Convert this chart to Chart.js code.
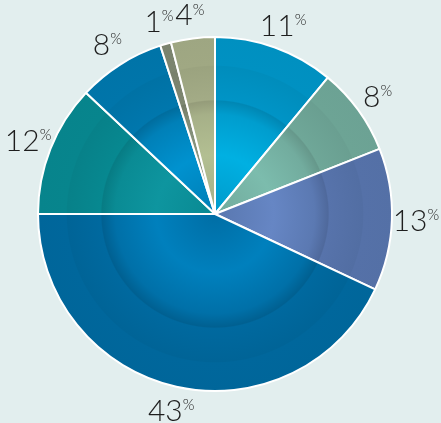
<!DOCTYPE html>
<html>
<head>
<meta charset="utf-8">
<script src="https://cdn.jsdelivr.net/npm/chart.js@4.4.1/dist/chart.umd.min.js"></script>
<style>
    html, body { margin: 0; padding: 0; background: #e2eeee; }
    #wrap { width: 441px; height: 423px; }
</style>
</head>
<body>
<div id="wrap"><canvas id="pieChart" width="441" height="423"></canvas></div>
<script>
// shares in percent, clockwise from 12 o'clock
const shares = [11, 8, 13, 43, 12, 8, 1, 4];
const shareLabels = ['11', '8', '13', '43', '12', '8', '1', '4'];

// outer band colour and highlight colour of each slice
const baseColors = ['#0090c0', '#6ca294', '#5470a6', '#00669a', '#07848c', '#0074a8', '#7a836e', '#9ea682'];
const lightColors = ['#00b0e2', '#7cbcad', '#6686c4', '#0080bd', '#0e959f', '#0092cf', '#8a9680', '#b3bf92'];

function hexToRgb(hex) {
    const n = parseInt(hex.slice(1), 16);
    return [(n >> 16) & 255, (n >> 8) & 255, n & 255];
}

function mix(a, b, t) {
    const c1 = hexToRgb(a), c2 = hexToRgb(b);
    const c = c1.map((v, i) => Math.round(v + (c2[i] - v) * t));
    return 'rgb(' + c.join(',') + ')';
}

function shade(hex, f) {
    const c = hexToRgb(hex).map(v => Math.max(0, Math.min(255, Math.round(v * f))));
    return 'rgb(' + c.join(',') + ')';
}

function sliceFill(context) {
    const chart = context.chart;
    const area = chart.chartArea;
    const i = context.dataIndex;
    if (!area) return baseColors[i];
    const cx = (area.left + area.right) / 2;
    const cy = (area.top + area.bottom) / 2;
    const r = Math.min(area.width, area.height) / 2;
    const base = baseColors[i], light = lightColors[i];
    const g = chart.ctx.createRadialGradient(cx, cy, 0, cx, cy, r);
    g.addColorStop(0, mix(base, light, 0.3));
    g.addColorStop(0.33, light);
    g.addColorStop(0.56, mix(base, light, 0.4));
    g.addColorStop(0.635, shade(base, 0.94));
    g.addColorStop(0.642, shade(base, 1.03));
    g.addColorStop(0.83, shade(base, 0.98));
    g.addColorStop(0.836, shade(base, 1.01));
    g.addColorStop(1, base);
    return g;
}

const pctLabels = {
    id: 'pctLabels',
    afterDatasetsDraw(chart) {
        const ctx = chart.ctx;
        const arcs = chart.getDatasetMeta(0).data;
        const numSize = 30, pctSize = 15;
        const numFont = '300 ' + numSize + 'px "Lato", "Open Sans", sans-serif';
        const pctFont = '300 ' + pctSize + 'px "Lato", "Open Sans", sans-serif';
        ctx.save();
        ctx.fillStyle = '#1e1e1e';
        ctx.textBaseline = 'alphabetic';
        ctx.textAlign = 'left';
        arcs.forEach((arc, i) => {
            const mid = (arc.startAngle + arc.endAngle) / 2;
            const r = arc.outerRadius + 24;
            const px = arc.x + r * Math.cos(mid);
            const py = arc.y + r * Math.sin(mid);
            ctx.font = numFont;
            const wn = ctx.measureText(shareLabels[i]).width;
            ctx.font = pctFont;
            const wp = ctx.measureText('%').width;
            const w = wn + wp;
            const cap = numSize * 0.72;
            const x0 = px - w / 2;
            const top = py - cap / 2;
            ctx.font = numFont;
            ctx.fillText(shareLabels[i], x0, top + cap);
            ctx.font = pctFont;
            ctx.fillText('%', x0 + wn, top + pctSize * 0.72);
        });
        ctx.restore();
    }
};

new Chart(document.getElementById('pieChart').getContext('2d'), {
    type: 'pie',
    data: {
        labels: shareLabels,
        datasets: [{
            data: shares,
            backgroundColor: sliceFill,
            borderColor: '#ffffff',
            borderWidth: 2
        }]
    },
    options: {
        responsive: false,
        animation: false,
        layout: { padding: { left: 37, right: 48, top: 36, bottom: 31 } },
        plugins: {
            legend: { display: false },
            tooltip: { enabled: false }
        }
    },
    plugins: [pctLabels]
});
</script>
</body>
</html>
